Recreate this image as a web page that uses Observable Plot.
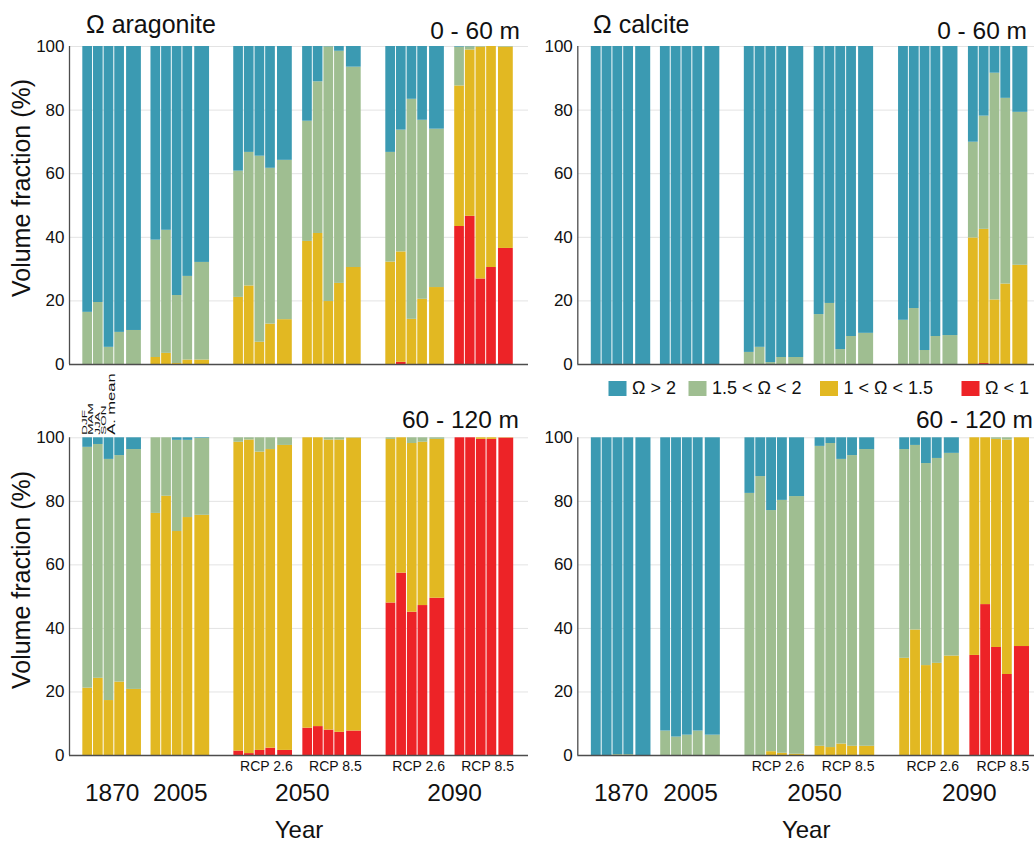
<!DOCTYPE html>
<html><head><meta charset="utf-8">
<script src="https://cdn.jsdelivr.net/npm/d3@7"></script>
<script src="https://cdn.jsdelivr.net/npm/@observablehq/plot@0.6"></script>
<style>
body{margin:0;background:#fff;}
#chart{position:relative;width:1034px;height:844px;overflow:hidden;background:#fff;}
#chart > svg{position:absolute;}
</style></head><body><div id="chart"></div><script>
// ---------------- data ----------------
const seasons = ["DJF", "MAM", "JJA", "SON", "A. mean"];
const groups = ["1870", "2005", "2050 RCP 2.6", "2050 RCP 8.5", "2090 RCP 2.6", "2090 RCP 8.5"];
const years = ["1870", "2005", "2050", "2090"];
const scenarios = ["RCP 2.6", "RCP 8.5", "RCP 2.6", "RCP 8.5"];
const classes = ["Ω < 1", "1 < Ω < 1.5", "1.5 < Ω < 2", "Ω > 2"];
const legendOrder = ["Ω > 2", "1.5 < Ω < 2", "1 < Ω < 1.5", "Ω < 1"];
const yTicks = [0, 20, 40, 60, 80, 100];

// Ω aragonite, 0 - 60 m (volume fraction %, 6 groups x 5 bars)
const arag60_lt1   = [0,0,0,0,0, 0,0,0,0,0, 0,0,0,0,0, 0,0,0,0,0, 0,0.7,0,0,0, 43.4,46.6,26.9,30.5,36.5];
const arag60_1to15 = [0,0,0,0,0, 2.2,3.5,0.3,1.4,1.4, 21.1,24.7,7.0,12.7,14.1, 38.7,41.2,19.8,25.5,30.5, 32.2,34.7,14.2,20.5,24.2, 44.2,52.3,72.9,69.5,63.3];
const arag60_15to2 = [16.4,19.5,5.4,10.1,10.7, 36.9,38.7,21.4,26.3,30.7, 39.7,42.0,58.5,49.0,50.1, 37.8,47.7,80.1,73.0,63.0, 34.5,38.3,69.2,56.3,49.8, 12.2,1.0,0.2,0,0.2];
const arag60_gt2   = [83.6,80.5,94.6,89.9,89.3, 60.9,57.8,78.3,72.3,67.9, 39.2,33.3,34.5,38.3,35.8, 23.5,11.1,0.1,1.5,6.5, 33.3,26.3,16.6,23.2,26.0, 0.2,0.1,0,0,0];

// Ω calcite, 0 - 60 m
const calc60_lt1   = [0,0,0,0,0, 0,0,0,0,0, 0,0,0,0,0, 0,0,0,0,0, 0,0,0,0,0, 0,0.3,0,0,0];
const calc60_1to15 = [0,0,0,0,0, 0,0,0,0,0, 0,0,0,0,0, 0,0,0,0,0, 0,0,0,0,0, 39.8,42.2,20.3,25.3,31.2];
const calc60_15to2 = [0,0,0,0,0, 0,0,0,0,0, 3.8,5.4,0.6,2.2,2.2, 15.7,19.2,4.7,8.8,9.8, 13.9,17.6,4.4,8.8,9.1, 30.1,35.6,71.3,58.4,48.1];
const calc60_gt2   = [100,100,100,100,100, 100,100,100,100,100, 96.2,94.6,99.4,97.8,97.8, 84.3,80.8,95.3,91.2,90.2, 86.1,82.4,95.6,91.2,90.9, 30.1,21.9,8.4,16.3,20.7];

// Ω aragonite, 60 - 120 m
const arag120_lt1   = [0,0,0,0,0, 0,0,0,0,0, 1.4,0.6,1.6,2.3,1.6, 8.6,9.1,8.0,7.3,7.7, 48.0,57.4,45.1,47.2,49.5, 100,100,99.5,99.5,99.9];
const arag120_1to15 = [21.2,24.3,17.3,23.1,20.8, 76.2,81.6,70.5,74.9,75.6, 97.2,98.7,93.9,94.0,96.0, 91.4,90.9,91.3,92.0,92.2, 51.5,42.6,53.1,51.4,50.0, 0,0,0.5,0.5,0.1];
const arag120_15to2 = [75.8,73.6,75.9,71.3,75.5, 23.8,18.4,28.7,24.3,24.2, 1.4,0.7,4.5,3.7,2.4, 0,0,0.7,0.7,0.1, 0.5,0,1.8,1.4,0.5, 0,0,0,0,0];
const arag120_gt2   = [3.0,2.1,6.8,5.6,3.7, 0,0,0.8,0.8,0.2, 0,0,0,0,0, 0,0,0,0,0, 0,0,0,0,0, 0,0,0,0,0];

// Ω calcite, 60 - 120 m
const calc120_lt1   = [0,0,0,0,0, 0,0,0,0,0, 0,0,0,0,0, 0,0,0,0,0, 0,0,0,0,0, 31.5,47.5,34.0,25.5,34.3];
const calc120_1to15 = [0,0,0,0,0, 0,0,0,0,0, 0,0,1.2,0.7,0.4, 2.9,2.5,3.6,2.9,2.9, 30.6,39.5,28.3,29.0,31.3, 68.5,52.5,65.5,73.8,65.7];
const calc120_15to2 = [0,0,0.3,0.3,0, 7.7,5.8,6.4,7.7,6.4, 82.5,87.8,75.9,79.6,81.1, 94.4,95.7,89.6,91.5,93.4, 65.7,58.1,63.6,64.5,63.8, 0,0,0.5,0.7,0];
const calc120_gt2   = [100,100,99.7,99.7,100, 92.3,94.2,93.6,92.3,93.6, 17.5,12.2,22.9,19.7,18.5, 2.7,1.8,6.8,5.6,3.7, 3.7,2.4,8.1,6.5,4.9, 0,0,0,0,0];

// ---------------- style / layout ----------------
const colors = ["#ed2327", "#e2b822", "#9fbe91", "#3b9ab2"];
const FONT = "'Liberation Sans', Arial, Helvetica, sans-serif";
const GROUP_W = 5.5, START = 1.25;
const gapAfter = [0.9, 2.27, 0.97, 2.31, 0.97];
const gStart = [START];
for (let i = 1; i < groups.length; i++) gStart[i] = gStart[i - 1] + GROUP_W + gapAfter[i - 1];
function barX(g, s) {
  return s < 4 ? [gStart[g] + s, gStart[g] + s + 0.91] : [gStart[g] + 4.11, gStart[g] + GROUP_W];
}

function buildRows(series) {
  const rows = [];
  groups.forEach((grp, g) => {
    seasons.forEach((sea, s) => {
      const idx = g * 5 + s;
      const [x1, x2] = barX(g, s);
      let acc = 0;
      series.forEach((arr, c) => {
        const v = arr[idx];
        if (v > 0) rows.push({group: grp, season: sea, cls: classes[c], x1, x2, y1: acc, y2: acc + v});
        acc += v;
      });
    });
  });
  return rows;
}

function panel(series, o) {
  const rows = buildRows(series);
  const marks = [
    Plot.ruleY(yTicks.filter(d => d > 0), {stroke: "#e3e3e3", strokeWidth: 1}),
    Plot.rect(rows, {x1: "x1", x2: "x2", y1: "y1", y2: "y2", fill: "cls"}),
    Plot.ruleY([0], {stroke: "#4d4d4d", strokeWidth: 1.3}),
    Plot.ruleX([0], {y1: 0, y2: 100, stroke: "#4d4d4d", strokeWidth: 1.3})
  ];
  if (o.xLabels) {
    const scen = [2, 3, 4, 5].map((g, i) => ({label: scenarios[i], x: gStart[g] + GROUP_W / 2 + 0.3}));
    const yrs = [
      {label: years[0], x: gStart[0] + GROUP_W / 2},
      {label: years[1], x: gStart[1] + GROUP_W / 2},
      {label: years[2], x: gStart[3] - 0.05},
      {label: years[3], x: gStart[5] - 0.05}
    ];
    marks.push(
      Plot.text(scen, {x: "x", text: "label", frameAnchor: "bottom", lineAnchor: "bottom", dy: 15, fontSize: 14, fill: "#111"}),
      Plot.text(yrs, {x: "x", text: "label", frameAnchor: "bottom", lineAnchor: "bottom", dy: 45.5, fontSize: 24.5, fill: "#111"}),
      Plot.text(["Year"], {frameAnchor: "bottom", lineAnchor: "bottom", dy: 82.5, fontSize: 24, fill: "#111"})
    );
  }
  if (o.seasonLabels) {
    const sl = seasons.slice(0, 4).map((d, i) => ({label: d, x: gStart[0] + 0.15 + 0.6 * i}));
    const am = [{label: seasons[4], x: gStart[0] + 2.72}];
    marks.push(
      Plot.text(sl, {x: "x", y: () => 100, text: "label", rotate: -90, textAnchor: "start", dy: -3, fontSize: 13.5, fill: "#111"}),
      Plot.text(am, {x: "x", y: () => 100, text: "label", rotate: -90, textAnchor: "start", dy: -3, fontSize: 16.5, fill: "#111"})
    );
  }
  const svg = Plot.plot({
    width: o.width, height: o.height,
    marginLeft: o.ml, marginRight: o.mr, marginTop: o.mt, marginBottom: o.mb,
    x: {domain: [0, o.D], axis: null},
    y: {domain: [0, 100], ticks: yTicks, tickSize: 0, tickPadding: 5, label: null},
    color: {domain: classes, range: colors},
    style: {fontFamily: FONT, fontSize: "17px", color: "#111", background: "none", overflow: "visible"},
    marks
  });
  svg.style.left = o.left + "px";
  svg.style.top = o.top + "px";
  if (o.seasonLabels) {
    d3.select(svg).selectAll("text").filter(function () { return seasons.includes(this.textContent); })
      .attr("transform", function () {
        const t = this.getAttribute("transform") || "";
        return t + (this.textContent === "A. mean" ? " scale(1,0.62)" : " scale(1,0.55)");
      });
  }
  return svg;
}

const chart = document.getElementById("chart");
chart.appendChild(panel([arag60_lt1, arag60_1to15, arag60_15to2, arag60_gt2],
  {left: 0, top: 0, width: 530, height: 366, ml: 69, mr: 2, mt: 46, mb: 2, D: 459 / 10.65}));
chart.appendChild(panel([calc60_lt1, calc60_1to15, calc60_15to2, calc60_gt2],
  {left: 530, top: 0, width: 504, height: 366, ml: 47.3, mr: 0, mt: 46, mb: 2, D: 456.7 / 10.8}));
chart.appendChild(panel([arag120_lt1, arag120_1to15, arag120_15to2, arag120_gt2],
  {left: 0, top: 366, width: 530, height: 478, ml: 69, mr: 2, mt: 71.3, mb: 89, D: 459 / 10.66, xLabels: true, seasonLabels: true}));
chart.appendChild(panel([calc120_lt1, calc120_1to15, calc120_15to2, calc120_gt2],
  {left: 530, top: 366, width: 504, height: 478, ml: 47.3, mr: 0, mt: 71.3, mb: 89, D: 456.7 / 10.84, xLabels: true}));

// ---------------- titles, axis titles, legend ----------------
const ov = d3.select(chart).append("svg")
  .attr("width", 1034).attr("height", 844)
  .style("left", "0px").style("top", "0px")
  .style("font-family", FONT).style("pointer-events", "none");
const txt = (s, x, y, size, anchor) => ov.append("text").attr("x", x).attr("y", y)
  .attr("font-size", size).attr("text-anchor", anchor).attr("fill", "#111").text(s);
txt("Ω aragonite", 86, 33, 25, "start");
txt("Ω calcite", 593, 33, 25, "start");
txt("0 - 60 m", 520, 39, 24.5, "end");
txt("0 - 60 m", 1027, 39, 24.5, "end");
txt("60 - 120 m", 519, 428, 24.5, "end");
txt("60 - 120 m", 1033, 428, 24.5, "end");
[188, 580].forEach(cy => ov.append("text")
  .attr("transform", `translate(30,${cy}) rotate(-90)`)
  .attr("font-size", 25).attr("text-anchor", "middle").attr("fill", "#111")
  .text("Volume fraction (%)"));
const legX = [608.5, 688.5, 820, 961.5];
legendOrder.forEach((lab, i) => {
  ov.append("rect").attr("x", legX[i]).attr("y", 381).attr("width", 18).attr("height", 15)
    .attr("fill", colors[classes.indexOf(lab)]);
  txt(lab, legX[i] + 23.5, 393.5, 18, "start");
});
</script></body></html>
